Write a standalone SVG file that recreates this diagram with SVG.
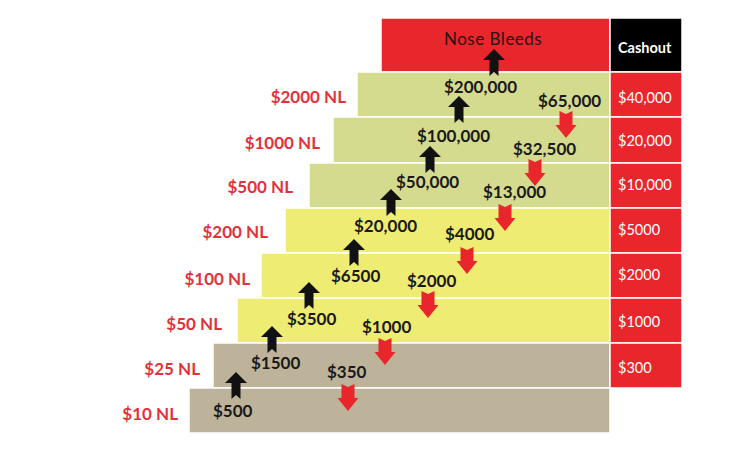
<svg xmlns="http://www.w3.org/2000/svg" width="729" height="453" viewBox="0 0 729 453">
<defs>
<style>
.row{stroke:#ffffff;stroke-width:1.5}
.green{fill:#D4DB8E}
.yellow{fill:#EFEC74}
.tan{fill:#BDB39B}
.red{fill:#E8262B}
.blk{fill:#000000}
.lvl{font-family:Lato,"Liberation Sans",sans-serif;font-weight:700;font-size:17px;fill:#E2313B;text-anchor:end}
.amt{font-family:Lato,"Liberation Sans",sans-serif;font-weight:700;font-size:17px;fill:#1a1a1a}
.cash{font-family:Lato,"Liberation Sans",sans-serif;font-size:14.5px;fill:#ffffff}
.hdr{font-family:Lato,"Liberation Sans",sans-serif;font-weight:700;font-size:14.5px;fill:#ffffff}
.nose{font-family:Lato,"Liberation Sans",sans-serif;font-size:17px;fill:#2a1214;letter-spacing:0.5px}
</style>
<path id="up" d="M0,0 L11,11 L4.5,11 L4.5,27 L0,23 L-4.5,27 L-4.5,11 L-11,11 Z" fill="#111111"/>
<path id="down" d="M-6.5,0 L0,3 L6.5,0 L6.5,14 L10.5,14 L0,27 L-10.5,14 L-6.5,14 Z" fill="#E8262B"/>
</defs>
<rect width="729" height="453" fill="#ffffff"/>

<g id="nosebleeds">
<rect class="row red" x="381" y="18" width="229" height="54"/>
<text class="nose" x="444" y="45">Nose Bleeds</text>
</g>
<g id="cashout-header">
<rect class="row blk" x="610" y="18" width="72" height="54"/>
<text class="hdr" x="618" y="53">Cashout</text>
</g>

<g id="nl2000">
<rect class="row green" x="357" y="72" width="253" height="45"/>
<text class="lvl" x="346" y="103">$2000 NL</text>
<rect class="row red" x="610" y="72" width="72" height="45"/>
<text class="cash" x="618" y="103">$40,000</text>
</g>
<g id="nl1000">
<rect class="row green" x="333" y="117" width="277" height="46"/>
<text class="lvl" x="320" y="149">$1000 NL</text>
<rect class="row red" x="610" y="117" width="72" height="46"/>
<text class="cash" x="618" y="146">$20,000</text>
</g>
<g id="nl500">
<rect class="row green" x="309" y="163" width="301" height="45"/>
<text class="lvl" x="293" y="193">$500 NL</text>
<rect class="row red" x="610" y="163" width="72" height="45"/>
<text class="cash" x="618" y="190">$10,000</text>
</g>
<g id="nl200">
<rect class="row yellow" x="285" y="208" width="325" height="45"/>
<text class="lvl" x="268" y="238">$200 NL</text>
<rect class="row red" x="610" y="208" width="72" height="45"/>
<text class="cash" x="618" y="235">$5000</text>
</g>
<g id="nl100">
<rect class="row yellow" x="261" y="253" width="349" height="45"/>
<text class="lvl" x="250" y="285">$100 NL</text>
<rect class="row red" x="610" y="253" width="72" height="45"/>
<text class="cash" x="618" y="280">$2000</text>
</g>
<g id="nl50">
<rect class="row yellow" x="237" y="298" width="373" height="45"/>
<text class="lvl" x="222" y="330">$50 NL</text>
<rect class="row red" x="610" y="298" width="72" height="45"/>
<text class="cash" x="618" y="327">$1000</text>
</g>
<g id="nl25">
<rect class="row tan" x="213" y="343" width="397" height="45"/>
<text class="lvl" x="200" y="375">$25 NL</text>
<rect class="row red" x="610" y="343" width="72" height="45"/>
<text class="cash" x="618" y="373">$300</text>
</g>
<g id="nl10">
<rect class="row tan" x="189" y="388" width="421" height="45"/>
<text class="lvl" x="178" y="420">$10 NL</text>
</g>

<g id="connectors">
<use href="#up" x="236" y="372"/>
<use href="#up" x="272" y="326"/>
<use href="#up" x="309" y="282"/>
<use href="#up" x="354" y="239"/>
<use href="#up" x="391" y="189"/>
<use href="#up" x="430" y="146"/>
<use href="#up" x="459" y="96"/>
<use href="#up" x="494" y="49"/>
<use href="#down" x="348" y="384"/>
<use href="#down" x="385" y="338"/>
<use href="#down" x="428" y="291"/>
<use href="#down" x="467" y="247"/>
<use href="#down" x="505" y="204"/>
<use href="#down" x="535" y="159"/>
<use href="#down" x="566" y="111"/>
</g>

<g id="amounts">
<text class="amt" x="444" y="93">$200,000</text>
<text class="amt" x="538" y="107">$65,000</text>
<text class="amt" x="417" y="142">$100,000</text>
<text class="amt" x="513" y="155">$32,500</text>
<text class="amt" x="396" y="188">$50,000</text>
<text class="amt" x="483" y="198">$13,000</text>
<text class="amt" x="354" y="232">$20,000</text>
<text class="amt" x="445" y="240">$4000</text>
<text class="amt" x="331" y="282">$6500</text>
<text class="amt" x="407" y="287">$2000</text>
<text class="amt" x="287" y="325">$3500</text>
<text class="amt" x="362" y="333">$1000</text>
<text class="amt" x="251" y="369">$1500</text>
<text class="amt" x="327" y="378">$350</text>
<text class="amt" x="213" y="417">$500</text>
</g>
</svg>
